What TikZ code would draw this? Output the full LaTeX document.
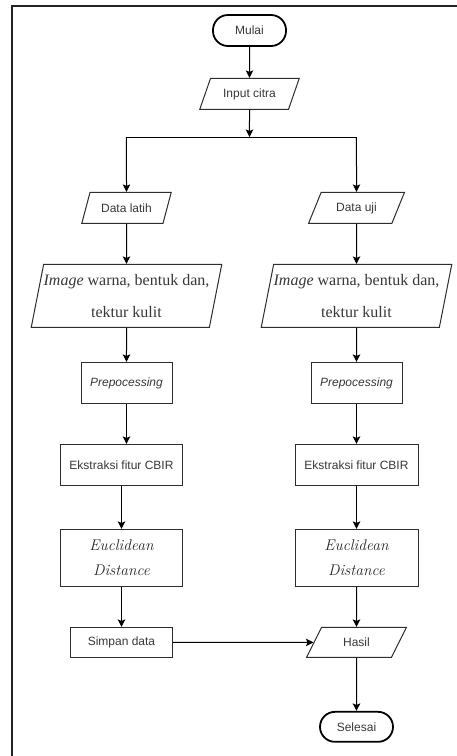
\documentclass[tikz,border=0pt]{standalone}
\usepackage{fontspec}
\newfontfamily\arialfont{Liberation Sans}
\newfontfamily\timesfont{Liberation Serif}
\usepackage{tikz}
\usetikzlibrary{shapes.geometric, arrows.meta, positioning}
\definecolor{LineGray}{RGB}{45,45,45}
\definecolor{TextGray}{RGB}{55,55,55}
\definecolor{FrameGray}{RGB}{35,35,35}

\begin{document}
\begin{tikzpicture}[x=1pt, y=-1pt, >={Stealth[length=7.5pt, width=7.5pt, inset=1.5pt]},
  line width=1pt,
  term/.style={draw=black, line width=1.8pt, rounded corners=15pt,
               minimum width=73pt, minimum height=31pt, inner sep=0pt,
               font=\arialfont\fontsize{12}{14}\selectfont\color{TextGray}},
  io/.style={draw=LineGray, trapezium, trapezium left angle=57,
             trapezium right angle=123, trapezium stretches=true,
             minimum height=31pt, inner sep=0pt,
             font=\arialfont\fontsize{12}{14}\selectfont\color{TextGray}},
  iobig/.style={draw=LineGray, trapezium, trapezium left angle=74,
                trapezium right angle=106, trapezium stretches=true,
                minimum width=188pt, minimum height=63pt, inner sep=0pt,
                align=center, font=\timesfont\fontsize{16}{32}\selectfont\color{TextGray}},
  proc/.style={draw=LineGray, rectangle, inner sep=0pt, minimum height=41pt,
               font=\arialfont\fontsize{12}{14}\selectfont\color{TextGray}},
  eucl/.style={proc, minimum width=122pt, minimum height=57pt, align=center,
               font=\fontsize{15.5}{25}\selectfont\itshape\color{black!85}}
]
  \useasboundingbox (0,0) rectangle (456,756);

  %% page frame (cut off at right and bottom)
  \draw[FrameGray, line width=2pt] (11.5,770) -- (11.5,6) -- (470,6);

  %% start and input
  \node[term] (mulai) at (249.5,30.5) {Mulai};
  \node[io, minimum width=100pt, below=31pt of mulai] (input) {Input citra};
  \coordinate (split) at (250,137);

  %% left column (data latih)
  \node[io, minimum width=90pt, below=82pt of input, xshift=-123pt] (latih) {Data latih};
  \node[iobig, below=40pt of latih] (imgL) {\textit{Image} warna, bentuk dan,\\tektur kulit};
  \node[proc, minimum width=91pt, below=34pt of imgL] (prepL) {\textit{Prepocessing}};
  \node[proc, minimum width=122pt, below=40pt of prepL, xshift=-5pt] (ekstL) {Ekstraksi fitur CBIR};
  \node[eucl, below=43pt of ekstL] (eucL) {Euclidean\\Distance};
  \node[proc, minimum width=102pt, minimum height=30pt, below=40pt of eucL] (simpan) {Simpan data};

  %% right column (data uji)
  \node[io, minimum width=96pt, below=82pt of input, xshift=107pt] (uji) {Data uji};
  \node[iobig, below=40pt of uji] (imgR) {\textit{Image} warna, bentuk dan,\\tektur kulit};
  \node[proc, minimum width=91pt, below=34pt of imgR] (prepR) {\textit{Prepocessing}};
  \node[proc, minimum width=123pt, below=40pt of prepR] (ekstR) {Ekstraksi fitur CBIR};
  \node[eucl, minimum width=123pt, below=43pt of ekstR] (eucR) {Euclidean\\Distance};
  \node[io, minimum width=100pt, minimum height=30pt, below=40pt of eucR] (hasil) {Hasil};
  \node[term, minimum height=30pt, below=53pt of hasil] (selesai) {Selesai};

  %% top part
  \draw[->] (mulai) -- (input);
  \draw[->] (input) -- (input |- split);
  \draw (split -| latih) -- (split -| uji);
  \draw[->] (split -| latih) -- (latih);
  \draw[->] (split -| uji) -- (uji);

  %% left chain
  \draw[->] (latih) -- (imgL);
  \draw[->] (imgL) -- (prepL);
  \draw[->] (prepL) -- (prepL |- ekstL.north);
  \draw[->] (ekstL) -- (eucL);
  \draw[->] (eucL) -- (simpan);

  %% right chain
  \draw[->] (uji) -- (imgR);
  \draw[->] (imgR) -- (prepR);
  \draw[->] (prepR) -- (ekstR);
  \draw[->] (ekstR) -- (eucR);
  \draw[->] (eucR) -- (hasil);
  \draw[->] (hasil) -- (selesai);

  %% simpan data -> hasil
  \draw[->] (simpan) -- (hasil);
\end{tikzpicture}
\end{document}
